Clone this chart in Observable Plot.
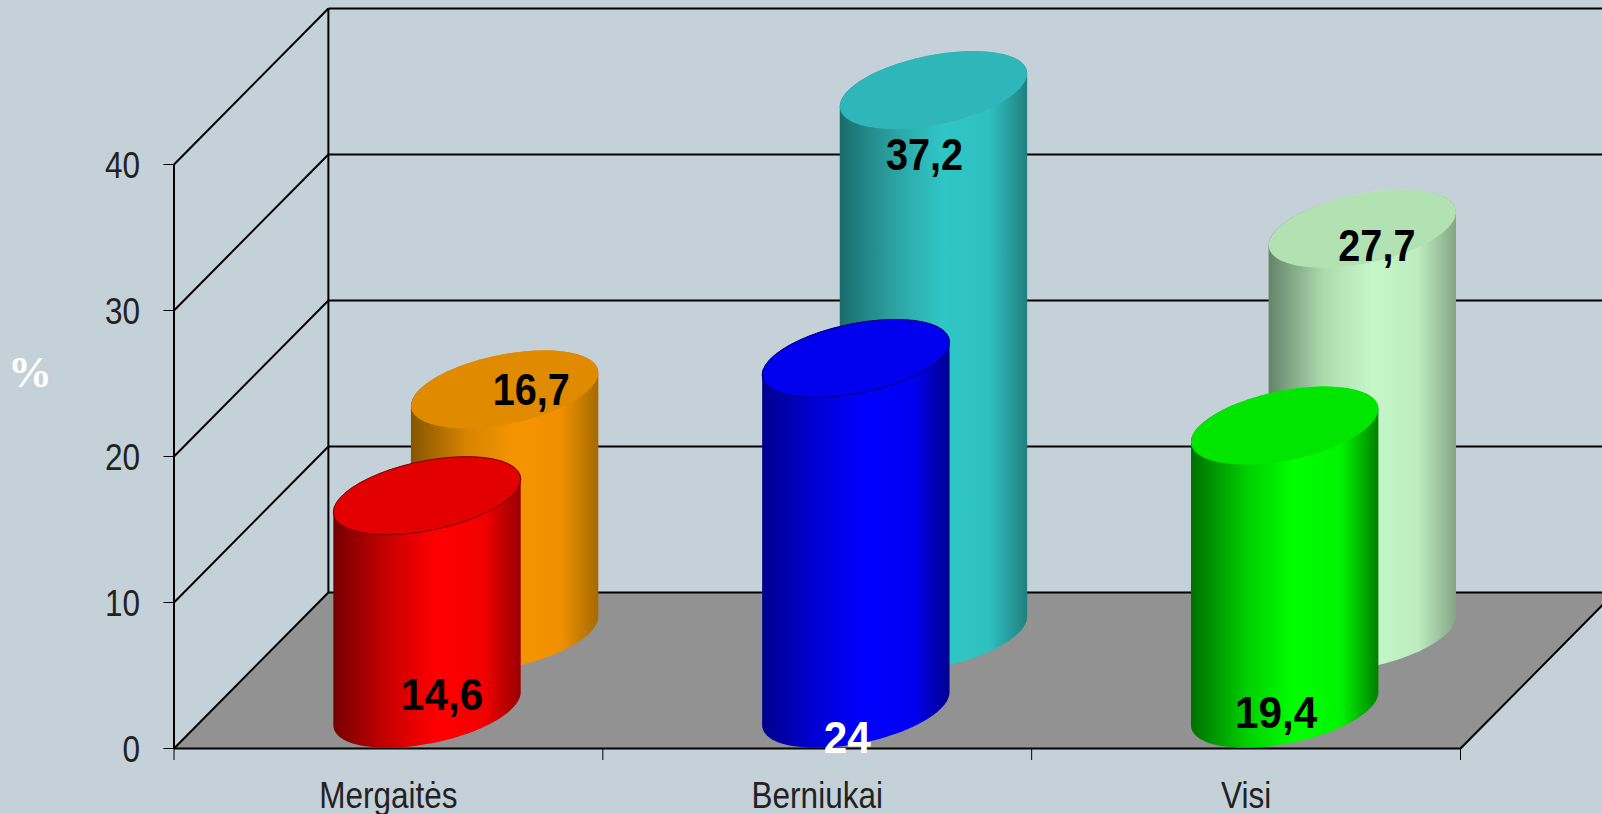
<!DOCTYPE html>
<html><head><meta charset="utf-8">
<script src="https://cdn.jsdelivr.net/npm/d3@7"></script>
<script src="https://cdn.jsdelivr.net/npm/@observablehq/plot@0.6"></script>
<style>html,body{margin:0;padding:0;background:#c5d1d8;overflow:hidden}svg{display:block}</style>
</head><body><div id="chart"></div>
<script>
const categories = ["Mergaitės", "Berniukai", "Visi"];
const frontValues = [14.6, 24, 19.4];
const backValues = [16.7, 37.2, 27.7];
const yTicks = [0, 10, 20, 30, 40];

// layout of the pseudo-3D box, in data units
const depthX = 0.36, depthY = 10.685;
const radiusX = 0.2185, tiltY = 1.13, radiusY = 2.42;
const frontLayer = {offset: 0.09, base: 2.72};
const backLayer = {offset: 0.271, base: 7.9};
const palettes = {
  red: {stops: ["#740000", "#cc0000", "#ff0000", "#f40000", "#980000"], top: "#e20000", edge: "#7a0000"},
  orange: {stops: ["#855600", "#d88400", "#f59400", "#f09000", "#a56a00"], top: "#e08a00", edge: null},
  blue: {stops: ["#00008c", "#0000d8", "#0000ff", "#0000f4", "#000090"], top: "#0000ee", edge: "#000070"},
  teal: {stops: ["#1b6c6c", "#2ca4a4", "#30c6c6", "#2fc0c0", "#217f7f"], top: "#2fb6ba", edge: null},
  green: {stops: ["#007000", "#00d000", "#00ff00", "#00f400", "#008000"], top: "#00e600", edge: null},
  pale: {stops: ["#648469", "#aedcb0", "#c5f7c8", "#bcecbf", "#85a585"], top: "#b2e2b2", edge: null}
};
const stopOffsets = [0, 0.3, 0.55, 0.8, 1];
const frontColors = ["red", "blue", "green"];
const backColors = ["orange", "teal", "pale"];
// label anchors in data units
const frontLabels = [[0.625, 3.6], [1.57, 0.7], [2.57, 2.4]];
const backLabels = [[0.833, 24.5], [1.75, 40.6], [2.805, 34.4]];

const arc = (cx, yc, from, to) => d3.range(0, 49).map(i => {
  const t = from + (to - from) * i / 48;
  return {x: cx + radiusX * Math.cos(t), y: yc + tiltY * Math.cos(t) + radiusY * Math.sin(t)};
});
const cylinder = (i, v, layer, color) => {
  const cx = i + 0.5 + layer.offset, top = layer.base + v, p = palettes[color];
  const body = [...arc(cx, layer.base, Math.PI, 2 * Math.PI), ...arc(cx, top, 0, Math.PI)];
  const cap = arc(cx, top, 0, 2 * Math.PI);
  return [
    Plot.line(body, {x: "x", y: "y", fill: `url(#g-${color})`, stroke: "none"}),
    Plot.line(cap, {x: "x", y: "y", fill: p.top, stroke: p.edge || "none", strokeWidth: 1})
  ];
};
const defs = () => {
  const d = d3.create("svg:defs");
  for (const [name, p] of Object.entries(palettes)) {
    const g = d.append("linearGradient").attr("id", `g-${name}`).attr("x1", 0).attr("x2", 1).attr("y1", 0).attr("y2", 0);
    p.stops.forEach((c, i) => g.append("stop").attr("offset", stopOffsets[i]).attr("stop-color", c));
  }
  return d.node();
};
const comma = v => String(v).replace(".", ",");
const wall = {stroke: "#000", strokeWidth: 2};
const sans = "'Liberation Sans',Arial,sans-serif";
const valueText = (rows, fill, className) => Plot.text(rows, {
  x: d => d.pos[0], y: d => d.pos[1], text: d => comma(d.v), fill, className,
  fontFamily: sans, fontWeight: 700, fontSize: 45
});

const chart = Plot.plot({
  width: 1602, height: 814,
  marginLeft: 173.5, marginRight: 142, marginTop: 164, marginBottom: 66,
  x: {domain: [0, 3], axis: null},
  y: {domain: [0, 40], axis: null},
  style: {background: "#c5d1d8", overflow: "hidden"},
  marks: [
    defs,
    Plot.line([{x: 0, y: 0}, {x: 3, y: 0}, {x: 3 + depthX, y: depthY}, {x: depthX, y: depthY}],
      {x: "x", y: "y", fill: "#929292", stroke: "none"}),
    Plot.link(yTicks, {x1: 0, x2: depthX, y1: d => d, y2: d => d + depthY, ...wall}),
    Plot.link(yTicks, {x1: depthX, x2: 3 + depthX, y1: d => d + depthY, y2: d => d + depthY, ...wall}),
    Plot.link([0], {x1: 0, x2: 0, y1: 0, y2: 40, ...wall}),
    Plot.link([0], {x1: depthX, x2: depthX, y1: depthY, y2: 40 + depthY, ...wall}),
    Plot.link([0], {x1: 0, x2: 3, y1: 0, y2: 0, ...wall}),
    Plot.link([0], {x1: 3, x2: 3 + depthX, y1: 0, y2: depthY, ...wall}),
    ...backValues.flatMap((v, i) => cylinder(i, v, backLayer, backColors[i])),
    ...frontValues.flatMap((v, i) => cylinder(i, v, frontLayer, frontColors[i])),
    Plot.axisY({ticks: yTicks, tickSize: 10, text: null, stroke: "#000", label: null}),
    Plot.axisY({ticks: yTicks, tickSize: 0, tickPadding: 34, dy: 2, fontSize: 36, fontFamily: sans, fill: "#222", label: null, className: "squeeze"}),
    Plot.axisX({ticks: [0, 1, 2, 3], tickSize: 12, text: null, stroke: "#000", label: null}),
    Plot.text(categories, {x: (d, i) => i + 0.5, frameAnchor: "bottom", dy: 59, text: d => d, fontSize: 36, fontFamily: sans, fill: "#222", className: "squeeze"}),
    valueText(backValues.map((v, i) => ({v, pos: backLabels[i]})), "#000", "back-value"),
    valueText(frontValues.map((v, i) => ({v, pos: frontLabels[i]})), (d) => d.v === 24 ? "#fff" : "#000", "front-value"),
    Plot.text(["%"], {frameAnchor: "left", y: 25.7, dx: -166, textAnchor: "start", text: d => d,
      fill: "#fff", fontFamily: "'Liberation Serif',serif", fontWeight: 700, fontSize: 44})
  ]
});
document.getElementById("chart").append(chart);
// condense the narrow lettering of the original
const condense = (selector, factor) => chart.querySelectorAll(selector).forEach(t => {
  t.setAttribute("textLength", t.getComputedTextLength() * factor);
  t.setAttribute("lengthAdjust", "spacingAndGlyphs");
});
condense(".squeeze text", 0.875);
condense(".back-value text", 0.88);
condense(".front-value text", 0.94);
</script>
</body></html>
